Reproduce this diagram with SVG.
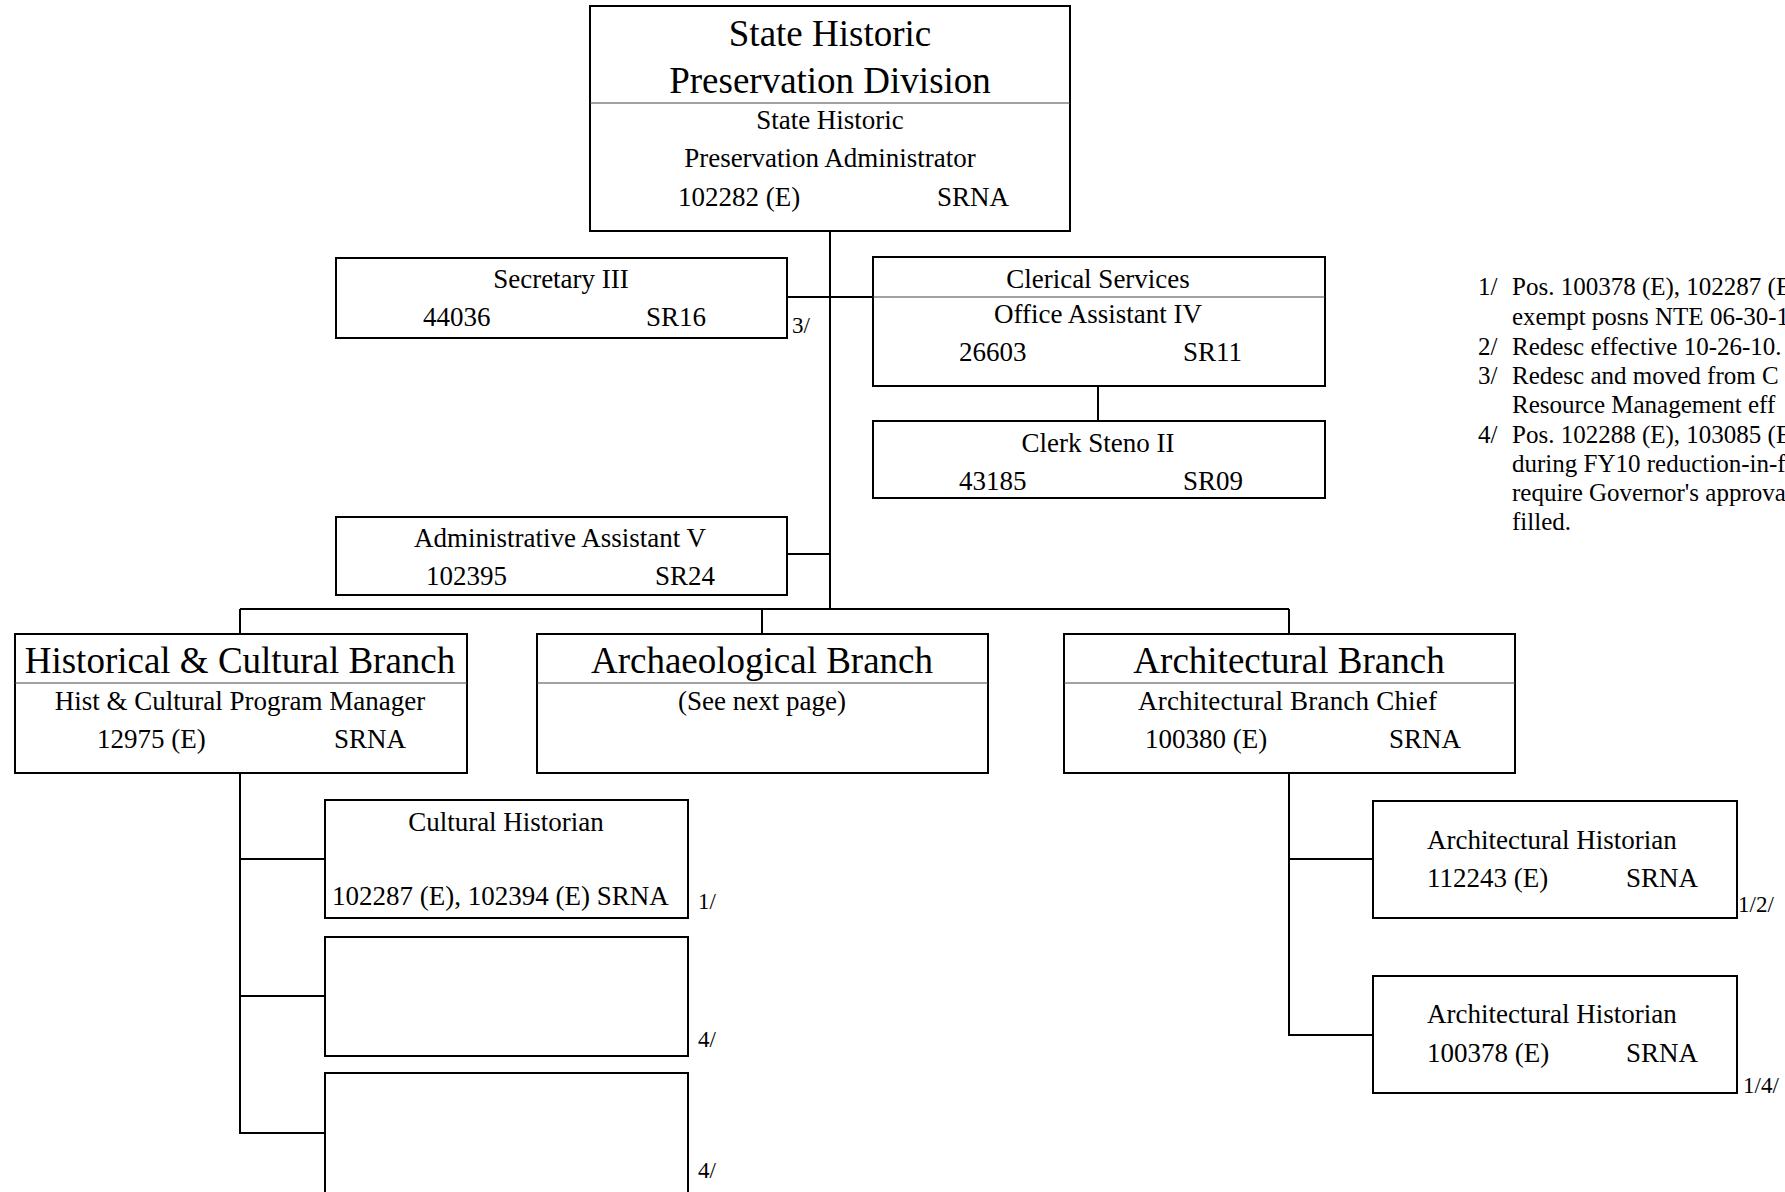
<svg xmlns="http://www.w3.org/2000/svg" width="1785" height="1192" viewBox="0 0 1785 1192">
<style>
.box{fill:#fff;stroke:#000;stroke-width:2}
.div{stroke:#444;stroke-width:1}
.ln{stroke:#000;stroke-width:2;fill:none}
text{font-family:"Liberation Serif","Times New Roman",serif;fill:#000}
.t{font-size:37px}
.s{font-size:27px}
.n{font-size:23px}
.nt{font-size:25px}
.c{text-anchor:middle}
</style>
<rect width="1785" height="1192" fill="#fff"/>
<g id="connectors">
<line class="ln" x1="830" y1="231" x2="830" y2="609"/>
<line class="ln" x1="787" y1="297" x2="873" y2="297"/>
<line class="ln" x1="787" y1="554" x2="830" y2="554"/>
<line class="ln" x1="1098" y1="386" x2="1098" y2="421"/>
<line class="ln" x1="240" y1="609" x2="1289" y2="609"/>
<line class="ln" x1="240" y1="609" x2="240" y2="634"/>
<line class="ln" x1="762" y1="609" x2="762" y2="634"/>
<line class="ln" x1="1289" y1="609" x2="1289" y2="634"/>
<line class="ln" x1="240" y1="773" x2="240" y2="1133"/>
<line class="ln" x1="239" y1="859" x2="325" y2="859"/>
<line class="ln" x1="239" y1="996" x2="325" y2="996"/>
<line class="ln" x1="239" y1="1133" x2="325" y2="1133"/>
<line class="ln" x1="1289" y1="773" x2="1289" y2="1035"/>
<line class="ln" x1="1288" y1="859" x2="1373" y2="859"/>
<line class="ln" x1="1288" y1="1035" x2="1373" y2="1035"/>
</g>
<g id="division">
<rect class="box" x="590" y="6" width="480" height="225"/>
<line class="div" x1="590" y1="103" x2="1070" y2="103"/>
<text class="t c" x="830" y="46">State Historic</text>
<text class="t c" x="830" y="93">Preservation Division</text>
<text class="s c" x="830" y="129">State Historic</text>
<text class="s c" x="830" y="167">Preservation Administrator</text>
<text class="s" x="678" y="206">102282 (E)</text>
<text class="s" x="937" y="206">SRNA</text>
</g>
<g id="secretary">
<rect class="box" x="336" y="258" width="451" height="80"/>
<text class="s c" x="561" y="288">Secretary III</text>
<text class="s" x="423" y="326">44036</text>
<text class="s" x="646" y="326">SR16</text>
<text class="n" x="792" y="333">3/</text>
</g>
<g id="clerical">
<rect class="box" x="873" y="257" width="452" height="129"/>
<line class="div" x1="873" y1="297" x2="1325" y2="297"/>
<text class="s c" x="1098" y="288">Clerical Services</text>
<text class="s c" x="1098" y="323">Office Assistant IV</text>
<text class="s" x="959" y="361">26603</text>
<text class="s" x="1183" y="361">SR11</text>
</g>
<g id="clerk">
<rect class="box" x="873" y="421" width="452" height="77"/>
<text class="s c" x="1098" y="452">Clerk Steno II</text>
<text class="s" x="959" y="490">43185</text>
<text class="s" x="1183" y="490">SR09</text>
</g>
<g id="admin">
<rect class="box" x="336" y="517" width="451" height="78"/>
<text class="s c" x="560" y="547">Administrative Assistant V</text>
<text class="s" x="426" y="585">102395</text>
<text class="s" x="655" y="585">SR24</text>
</g>
<g id="notes">
<text class="nt" x="1478" y="295">1/</text><text class="nt" x="1512" y="295">Pos. 100378 (E), 102287 (E), 102394 (E)</text>
<text class="nt" x="1512" y="325">exempt posns NTE 06-30-11</text>
<text class="nt" x="1478" y="355">2/</text><text class="nt" x="1512" y="355">Redesc effective 10-26-10.</text>
<text class="nt" x="1478" y="384">3/</text><text class="nt" x="1512" y="384">Redesc and moved from C</text>
<text class="nt" x="1512" y="413">Resource Management eff</text>
<text class="nt" x="1478" y="443">4/</text><text class="nt" x="1512" y="443">Pos. 102288 (E), 103085 (E)</text>
<text class="nt" x="1512" y="472">during FY10 reduction-in-fo</text>
<text class="nt" x="1512" y="501">require Governor's approva</text>
<text class="nt" x="1512" y="530">filled.</text>
</g>
<g id="hist-branch">
<rect class="box" x="15" y="634" width="452" height="139"/>
<line class="div" x1="15" y1="683" x2="467" y2="683"/>
<text class="t c" x="240" y="673">Historical &amp; Cultural Branch</text>
<text class="s c" x="240" y="710">Hist &amp; Cultural Program Manager</text>
<text class="s" x="97" y="748">12975 (E)</text>
<text class="s" x="334" y="748">SRNA</text>
</g>
<g id="arch-branch">
<rect class="box" x="537" y="634" width="451" height="139"/>
<line class="div" x1="537" y1="683" x2="988" y2="683"/>
<text class="t c" x="762" y="673">Archaeological Branch</text>
<text class="s c" x="762" y="710">(See next page)</text>
</g>
<g id="architectural-branch">
<rect class="box" x="1064" y="634" width="451" height="139"/>
<line class="div" x1="1064" y1="683" x2="1515" y2="683"/>
<text class="t c" x="1289" y="673">Architectural Branch</text>
<text class="s" x="1138" y="710" textLength="299">Architectural Branch Chief</text>
<text class="s" x="1145" y="748">100380 (E)</text>
<text class="s" x="1389" y="748">SRNA</text>
</g>
<g id="cultural-historian">
<rect class="box" x="325" y="800" width="363" height="118"/>
<text class="s c" x="506" y="831">Cultural Historian</text>
<text class="s" x="332" y="905">102287 (E), 102394 (E) SRNA</text>
<text class="n" x="698" y="909">1/</text>
</g>
<g id="vacant-1">
<rect class="box" x="325" y="937" width="363" height="119"/>
<text class="n" x="698" y="1047">4/</text>
</g>
<g id="vacant-2">
<rect class="box" x="325" y="1073" width="363" height="125"/>
<text class="n" x="698" y="1178">4/</text>
</g>
<g id="arch-historian-1">
<rect class="box" x="1373" y="801" width="364" height="117"/>
<text class="s" x="1427" y="849">Architectural Historian</text>
<text class="s" x="1427" y="887">112243 (E)</text>
<text class="s" x="1626" y="887">SRNA</text>
<text class="n" x="1738" y="912">1/2/</text>
</g>
<g id="arch-historian-2">
<rect class="box" x="1373" y="976" width="364" height="117"/>
<text class="s" x="1427" y="1023">Architectural Historian</text>
<text class="s" x="1427" y="1062">100378 (E)</text>
<text class="s" x="1626" y="1062">SRNA</text>
<text class="n" x="1743" y="1093">1/4/</text>
</g>
</svg>
